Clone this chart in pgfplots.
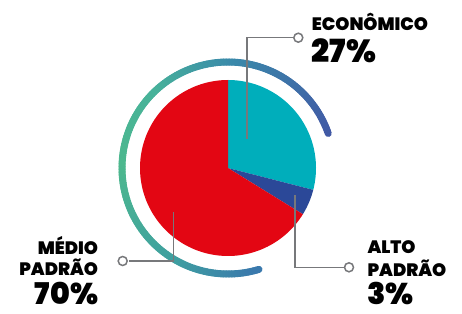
\documentclass[border=0pt]{standalone}
\usepackage{pgfplots}
\pgfplotsset{compat=1.18}
\usepackage{fontspec}
\setmainfont{Poppins Black}
\definecolor{tealc}{RGB}{0,174,187}
\definecolor{bluec}{RGB}{43,72,152}
\definecolor{redc}{RGB}{227,6,19}
\definecolor{leader}{RGB}{119,120,123}
% slice shares as drawn in the picture (percent)
\def\shareA{29.0}% Economico
\def\shareB{4.8}% Alto padrao
\def\shareC{66.2}% Medio padrao
\pgfmathsetmacro\aA{90-3.6*\shareA}
\pgfmathsetmacro\aB{\aA-3.6*\shareB}
\pgfmathsetmacro\aC{\aB-3.6*\shareC}
\begin{document}
\begin{tikzpicture}
\path[use as bounding box] (0,0) rectangle (462bp,314bp);
\begin{axis}[
  at={(0,0)}, anchor=south west,
  width=462bp, height=314bp, scale only axis,
  xmin=-228, xmax=234, ymin=-146, ymax=168,
  hide axis, clip=false,
]
% pie slices
\addplot[fill=tealc, draw=none, variable=\t, domain=\aA:90, samples=80]
  ({88*cos(\t)},{88*sin(\t)}) -- (axis cs:0,0) -- cycle;
\addplot[fill=bluec, draw=none, variable=\t, domain=\aB:\aA, samples=20]
  ({88*cos(\t)},{88*sin(\t)}) -- (axis cs:0,0) -- cycle;
\addplot[fill=redc, draw=none, variable=\t, domain=\aC:\aB, samples=160]
  ({88*cos(\t)},{88*sin(\t)}) -- (axis cs:0,0) -- cycle;
% gradient ring
\addplot[mesh, line width=7bp, line cap=round, variable=\t, domain=19:287, samples=180,
  point meta={mod(atan2(y,x)+360,360)}, point meta min=19, point meta max=287,
  colormap={ring}{rgb255(0pt)=(65,88,165) rgb255(71pt)=(58,138,170) rgb255(116pt)=(71,178,154) rgb255(161pt)=(77,184,142) rgb255(221pt)=(63,160,160) rgb255(268pt)=(58,120,173)}]
  ({106*cos(\t)},{106*sin(\t)});
% leader lines
\addplot[leader, line width=1.5bp] coordinates {(19,29) (19,130.3) (66,130.3)};
\addplot[leader, line width=1.5bp] coordinates {(-99,-93) (-54.7,-93) (-54.7,-43.7)};
\addplot[leader, line width=1.5bp] coordinates {(67,-27) (67,-99.3) (116,-99.3)};
\addplot[only marks, mark=*, mark size=4.5bp, mark options={fill=white, draw=leader, line width=1.5bp}]
  coordinates {(70.3,130.3) (-105.3,-93) (121,-99.3)};
% labels
\node[anchor=base west, inner sep=0, font=\fontsize{18}{20}\selectfont] at (axis cs:83.7,137) {ECONÔMICO};
\node[anchor=base west, inner sep=0, font=\fontsize{32}{34}\selectfont] at (axis cs:83.7,105.3) {27\%};
\node[anchor=base east, inner sep=0, font=\fontsize{18}{20}\selectfont] at (axis cs:-129.7,-86.3) {MÉDIO};
\node[anchor=base east, inner sep=0, font=\fontsize{18}{20}\selectfont] at (axis cs:-129.7,-107.7) {PADRÃO};
\node[anchor=base east, inner sep=0, text depth=0pt, font=\fontsize{30}{32}\selectfont] at (axis cs:-129.7,-136.5) {70\%};
\node[anchor=base west, inner sep=0, font=\fontsize{18}{20}\selectfont] at (axis cs:139.3,-86) {ALTO};
\node[anchor=base west, inner sep=0, font=\fontsize{18}{20}\selectfont] at (axis cs:139.3,-108.7) {PADRÃO};
\node[anchor=base west, inner sep=0, text depth=0pt, font=\fontsize{30}{32}\selectfont] at (axis cs:139.3,-136) {3\%};
\end{axis}
\end{tikzpicture}
\end{document}
